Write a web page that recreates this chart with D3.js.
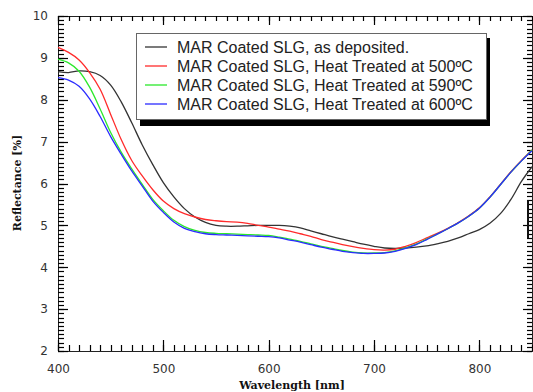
<!DOCTYPE html>
<html>
<head>
<meta charset="utf-8">
<script src="https://cdn.jsdelivr.net/npm/d3@7"></script>
<style>
  body { margin: 0; background: #fff; }
  .lbl text { font-family: "DejaVu Sans", Verdana, sans-serif; font-size: 12px; fill: #333; }
  .title { font-family: "DejaVu Serif", serif; font-weight: bold; font-size: 11px; fill: #111; }
  .legend text { font-family: "Liberation Sans", Arial, sans-serif; font-size: 16px; fill: #222; }
</style>
</head>
<body>
<div id="chart"></div>
<script>
// wavelength grid (nm), shared by all series
var wavelengths = [400,410,420,430,440,450,460,470,480,490,500,510,520,530,540,550,560,570,580,590,
  600,610,620,630,640,650,660,670,680,690,700,710,720,730,740,750,760,770,780,790,800,810,820,830,840,850];

var asDeposited = [8.67,8.65,8.69,8.67,8.58,8.35,7.95,7.45,6.92,6.45,6.02,5.68,5.40,5.20,5.07,5.00,4.98,4.98,4.99,5.00,
  5.00,5.00,4.98,4.94,4.87,4.80,4.73,4.67,4.61,4.55,4.50,4.46,4.45,4.46,4.48,4.51,4.56,4.62,4.70,4.80,4.90,5.05,5.28,5.62,6.05,6.40];
var heat500 = [9.25,9.13,8.95,8.65,8.25,7.65,7.05,6.55,6.18,5.85,5.58,5.40,5.28,5.20,5.14,5.11,5.09,5.08,5.05,5.00,
  4.96,4.91,4.86,4.80,4.74,4.66,4.60,4.54,4.49,4.45,4.42,4.41,4.43,4.50,4.59,4.70,4.81,4.93,5.07,5.23,5.42,5.68,5.98,6.28,6.55,6.80];
var heat590 = [8.97,8.88,8.68,8.30,7.78,7.22,6.75,6.35,5.98,5.62,5.35,5.12,4.97,4.88,4.83,4.81,4.80,4.79,4.78,4.77,
  4.76,4.72,4.67,4.62,4.56,4.50,4.45,4.40,4.36,4.34,4.34,4.35,4.39,4.46,4.55,4.67,4.79,4.92,5.06,5.22,5.41,5.67,5.97,6.27,6.54,6.80];
var heat600 = [8.53,8.47,8.32,8.02,7.60,7.12,6.70,6.30,5.94,5.58,5.31,5.08,4.93,4.85,4.80,4.78,4.77,4.76,4.75,4.74,
  4.73,4.70,4.65,4.60,4.54,4.48,4.43,4.38,4.35,4.33,4.33,4.34,4.38,4.45,4.54,4.66,4.79,4.92,5.06,5.22,5.41,5.67,5.97,6.27,6.54,6.78];

var seriesNames = ["MAR Coated SLG, as deposited.",
  "MAR Coated SLG, Heat Treated at 500ºC",
  "MAR Coated SLG, Heat Treated at 590ºC",
  "MAR Coated SLG, Heat Treated at 600ºC"];
var seriesValues = [asDeposited, heat500, heat590, heat600];
var seriesColors = ["#333333", "#ff2b2b", "#2be82b", "#2b2bff"];

var xTicks = [400, 500, 600, 700, 800];
var yTicks = [2, 3, 4, 5, 6, 7, 8, 9, 10];

var width = 533, height = 392;
var margin = {top: 16, right: 1, bottom: 41, left: 58};

var svg = d3.select("#chart").append("svg").attr("width", width).attr("height", height);

var xs = d3.scaleLinear().domain([400, 850]).range([margin.left, width - margin.right]);
var ys = d3.scaleLinear().domain([2, 10]).range([height - margin.bottom, margin.top]);

var xMinor = [], yMinor = [];
for (var k = 400; k <= 850; k += 10) xMinor.push(k);
for (var k = 20; k <= 100; k++) yMinor.push(k / 10);

// frame
svg.append("rect").attr("x", Math.round(xs(400)) + 0.5).attr("y", Math.round(ys(10)) + 0.5)
  .attr("width", Math.round(xs(850)) - Math.round(xs(400))).attr("height", Math.round(ys(2)) - Math.round(ys(10)))
  .attr("fill","none").attr("stroke","#222");

// tick marks, pointing inward from each edge
function xTickMarks(vals, y0, len) {
  vals.forEach(function(d){
    svg.append("line")
      .attr("x1", Math.round(xs(d)) + 0.5).attr("x2", Math.round(xs(d)) + 0.5)
      .attr("y1", Math.round(ys(y0))).attr("y2", Math.round(ys(y0)) + len)
      .attr("stroke", "#000").attr("stroke-width", 1.2);
  });
}
function yTickMarks(vals, x0, len) {
  vals.forEach(function(d){
    svg.append("line")
      .attr("y1", Math.round(ys(d)) + 0.5).attr("y2", Math.round(ys(d)) + 0.5)
      .attr("x1", Math.round(xs(x0))).attr("x2", Math.round(xs(x0)) + len)
      .attr("stroke", "#000").attr("stroke-width", 1.2);
  });
}
xTickMarks(xMinor, 2, -6);
xTickMarks(xTicks, 2, -11);
xTickMarks(xMinor, 10, 5);
xTickMarks(xTicks, 10, 9);
yTickMarks(yMinor, 400, 6);
yTickMarks(yTicks, 400, 10);
yTickMarks(yMinor, 850, -5);
yTickMarks(yTicks, 850, -9);

// labels
var xl = svg.append("g").attr("class","lbl").attr("transform","translate(0,"+ys(2)+")")
  .call(d3.axisBottom(xs).tickValues(xTicks).tickSize(0).tickPadding(13));
xl.select(".domain").remove();
var yl = svg.append("g").attr("class","lbl").attr("transform","translate("+xs(400)+",0)")
  .call(d3.axisLeft(ys).tickValues(yTicks).tickSize(0).tickPadding(10));
yl.select(".domain").remove();

// stray mark on the right axis
svg.append("line").attr("x1", xs(850) - 4).attr("x2", xs(850) - 4)
  .attr("y1", ys(5.6)).attr("y2", ys(4.7)).attr("stroke","#111").attr("stroke-width",2);

var line = d3.line()
  .x(function(d, i){ return xs(wavelengths[i]); })
  .y(function(d){ return ys(d); })
  .curve(d3.curveCatmullRom);

svg.selectAll(".series").data(seriesValues).enter().append("path")
  .attr("class","series")
  .attr("fill","none")
  .attr("stroke", function(d, i){ return seriesColors[i]; })
  .attr("stroke-width", 1.3)
  .attr("d", line);

// legend
var lg = svg.append("g").attr("class","legend");
lg.append("rect").attr("x",140).attr("y",38).attr("width",350).attr("height",88).attr("fill","#000");
lg.append("rect").attr("x",136.5).attr("y",33.5).attr("width",350).attr("height",86)
  .attr("fill","#fff").attr("stroke","#666");
seriesNames.forEach(function(name, i){
  var yy = 47 + i * 19;
  lg.append("line").attr("x1",145).attr("x2",167).attr("y1",yy).attr("y2",yy)
    .attr("stroke", seriesColors[i]).attr("stroke-width",1.3);
  lg.append("text").attr("x",177).attr("y",yy+6).text(name);
});

// axis titles
svg.append("text").attr("class","title").attr("x", 292).attr("y", 389)
  .attr("text-anchor","middle").text("Wavelength [nm]");
svg.append("text").attr("class","title")
  .attr("transform","translate(21,183) rotate(-90)")
  .attr("text-anchor","middle").text("Reflectance [%]");
</script>
</body>
</html>
